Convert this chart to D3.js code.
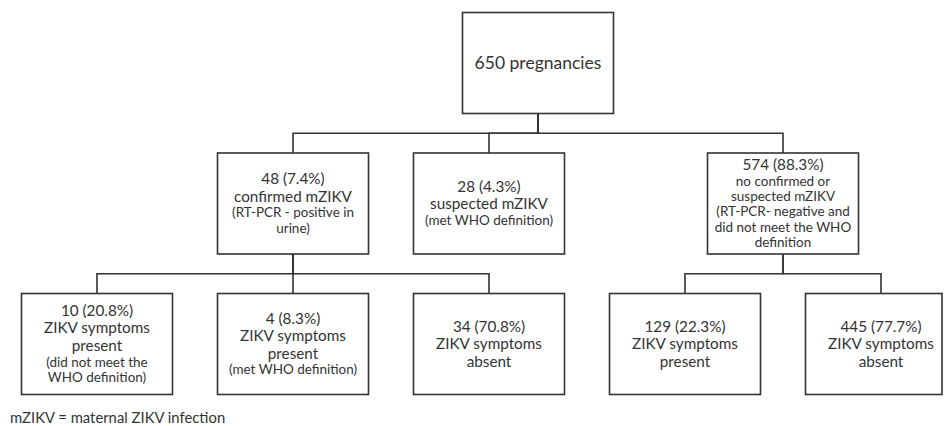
<!DOCTYPE html>
<html>
<head>
<meta charset="utf-8">
<script src="https://cdn.jsdelivr.net/npm/d3@7"></script>
<style>
  body { margin: 0; background: #fff; }
</style>
</head>
<body>
<div id="chart"></div>
<script>
// flowchart data: one entry per box
var nodeIds = ["all", "confirmed", "suspected", "none", "confSymNoWho", "confSymWho", "confAbsent", "nonePresent", "noneAbsent"];
var parentIds = [null, "all", "all", "all", "confirmed", "confirmed", "confirmed", "none", "none"];
var counts = [650, 48, 28, 574, 10, 4, 34, 129, 445];
var percents = ["", "7.4%", "4.3%", "88.3%", "20.8%", "8.3%", "70.8%", "22.3%", "77.7%"];
var descriptions = [
    ["pregnancies"],
    ["confirmed mZIKV"],
    ["suspected mZIKV"],
    ["no confirmed or", "suspected mZIKV"],
    ["ZIKV symptoms", "present"],
    ["ZIKV symptoms", "present"],
    ["ZIKV symptoms", "absent"],
    ["ZIKV symptoms", "present"],
    ["ZIKV symptoms", "absent"]
];
var notes = [
    [],
    ["(RT-PCR - positive in", "urine)"],
    ["(met WHO definition)"],
    ["(RT-PCR- negative and", "did not meet the WHO", "definition"],
    ["(did not meet the", "WHO definition)"],
    ["(met WHO definition)"],
    [],
    [],
    []
];
var footnote = "mZIKV = maternal ZIKV infection";

// svg measurements
var svgWidth = 944;
var svgHeight = 426;
var boxW = 151;
var boxH = 101;
var fontFamily = "Lato, 'Open Sans', sans-serif";
var ink = "#333";

var svg = d3.select("#chart")
    .append("svg")
    .attr("width", svgWidth)
    .attr("height", svgHeight);

// calibrate font size so text widths match the original
var probe = svg.append("text")
    .attr("font-family", fontFamily)
    .attr("font-size", 100)
    .text("ZIKV symptoms");
var probeW = probe.node().getComputedTextLength();
probe.remove();
var mainSize = 100 * 106 / probeW;
var smallSize = mainSize * 15 / 17;
var bigSize = mainSize * 19.5 / 17;
var footSize = mainSize * 16.5 / 17;

// build the tree
var rows = nodeIds.map(function(id, i) {
    return {id: id, parent: parentIds[i], count: counts[i], pct: percents[i], desc: descriptions[i], notes: notes[i]};
});
var root = d3.stratify()
    .id(function(d) { return d.id; })
    .parentId(function(d) { return d.parent; })(rows);

// columns: bottom leaves take one column each, parents sit over the middle of their children
var col = 0;
root.children.forEach(function(node) {
    if (node.children) {
        node.children.forEach(function(c) { c.col = col++; });
        node.col = (node.children[0].col + node.children[node.children.length - 1].col) / 2;
    } else {
        node.col = col - 1;
    }
});
root.col = (root.children[0].col + root.children[root.children.length - 1].col) / 2;

var xScale = d3.scaleLinear().domain([0, 4]).range([97, 881]);
var yScale = d3.scaleLinear().domain([0, 2]).range([12.5, 293.5]);

var nodes = root.descendants();

// elbow connectors
svg.append("g")
    .selectAll("path")
    .data(root.links())
    .enter()
    .append("path")
    .attr("d", function(l) {
        var px = xScale(l.source.col), pBottom = yScale(l.source.depth) + boxH;
        var cx = xScale(l.target.col), cTop = yScale(l.target.depth);
        var midY = (pBottom + cTop) / 2;
        return "M" + px + "," + pBottom + "V" + midY + "H" + cx + "V" + cTop;
    })
    .attr("fill", "none")
    .attr("stroke", ink)
    .attr("stroke-width", 1.6);

// boxes
var box = svg.append("g")
    .selectAll("g")
    .data(nodes)
    .enter()
    .append("g");

box.append("rect")
    .attr("x", function(d) { return xScale(d.col) - boxW / 2; })
    .attr("y", function(d) { return yScale(d.depth); })
    .attr("width", function(d) {
        var x0 = xScale(d.col) - boxW / 2;
        return Math.min(boxW, svgWidth - 2 - x0);
    })
    .attr("height", boxH)
    .attr("fill", "#fff")
    .attr("stroke", ink)
    .attr("stroke-width", 1.6);

// text lines for a box
function boxLines(d) {
    var r = d.data;
    if (!r.pct) return [{t: r.count + " " + r.desc.join(" "), s: bigSize}];
    var crowded = r.desc.length + r.notes.length > 4;
    var lines = [{t: r.count + " (" + r.pct + ")", s: mainSize}];
    r.desc.forEach(function(t) { lines.push({t: t, s: crowded ? smallSize : mainSize}); });
    r.notes.forEach(function(t) { lines.push({t: t, s: smallSize}); });
    // stack lines, centred in the box
    var y = 0;
    lines.forEach(function(l, i) {
        if (i > 0) y += (lines[i - 1].s + l.s) / 2 * 1.14;
        l.y = y;
    });
    lines.forEach(function(l) { l.y -= y / 2; });
    return lines;
}

box.each(function(d) {
    var cx = xScale(d.col);
    var cy = yScale(d.depth) + boxH / 2;
    var lines = boxLines(d);
    d3.select(this).selectAll("text")
        .data(lines)
        .enter()
        .append("text")
        .attr("x", cx)
        .attr("y", function(l) { return cy + (l.y || 0) + l.s * 0.35; })
        .attr("text-anchor", "middle")
        .attr("font-family", fontFamily)
        .attr("font-size", function(l) { return l.s; })
        .attr("fill", ink)
        .text(function(l) { return l.t; });
});

// footnote
svg.append("text")
    .attr("x", 10)
    .attr("y", 423)
    .attr("font-family", fontFamily)
    .attr("font-size", footSize)
    .attr("fill", ink)
    .text(footnote);
</script>
</body>
</html>
